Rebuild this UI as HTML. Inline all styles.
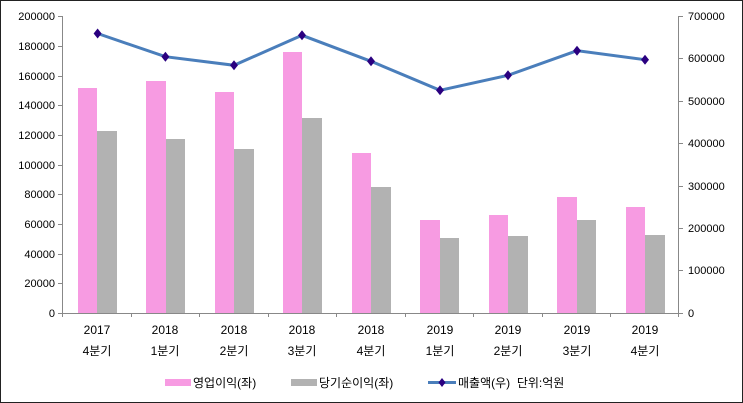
<!DOCTYPE html>
<html><head><meta charset="utf-8"><style>
html,body{margin:0;padding:0;background:#fff;}
svg{display:block;font-family:"Liberation Sans","Noto Sans CJK KR",sans-serif;}
</style></head><body>
<svg width="743" height="403" viewBox="0 0 743 403" xmlns="http://www.w3.org/2000/svg">
<rect x="0.5" y="0.5" width="742" height="402" fill="#fff" stroke="#222" stroke-width="1"/>
<g fill="#f79be2">
<rect x="78" y="88" width="19" height="225"/>
<rect x="146" y="81" width="20" height="232"/>
<rect x="215" y="92" width="19" height="221"/>
<rect x="283" y="52" width="19" height="261"/>
<rect x="352" y="153" width="19" height="160"/>
<rect x="420" y="220" width="20" height="93"/>
<rect x="489" y="215" width="19" height="98"/>
<rect x="557" y="197" width="20" height="116"/>
<rect x="626" y="207" width="19" height="106"/>
</g>
<g fill="#b2b2b2">
<rect x="97" y="131" width="20" height="182"/>
<rect x="166" y="139" width="19" height="174"/>
<rect x="234" y="149" width="20" height="164"/>
<rect x="302" y="118" width="20" height="195"/>
<rect x="371" y="187" width="20" height="126"/>
<rect x="440" y="238" width="19" height="75"/>
<rect x="508" y="236" width="20" height="77"/>
<rect x="577" y="220" width="19" height="93"/>
<rect x="645" y="235" width="20" height="78"/>
</g>
<g stroke="#888" stroke-width="1" fill="none">
<line x1="62.5" y1="16" x2="62.5" y2="313"/>
<line x1="678.5" y1="16" x2="678.5" y2="313"/>
<line x1="62" y1="313.5" x2="679" y2="313.5"/>
<path d="M58 16.5h4M58 46.5h4M58 76.5h4M58 105.5h4M58 135.5h4M58 165.5h4M58 194.5h4M58 224.5h4M58 254.5h4M58 283.5h4M58 313.5h4"/>
<path d="M679 16.5h4M679 58.5h4M679 101.5h4M679 143.5h4M679 186.5h4M679 228.5h4M679 270.5h4M679 313.5h4"/>
<path d="M62.5 313v4M131.5 313v4M199.5 313v4M268.5 313v4M336.5 313v4M405.5 313v4M473.5 313v4M542.5 313v4M610.5 313v4M678.5 313v4"/>
</g>
<g font-size="11" fill="#000" text-anchor="end">
<text x="55" y="20">200000</text><text x="55" y="50">180000</text><text x="55" y="80">160000</text>
<text x="55" y="109">140000</text><text x="55" y="139">120000</text><text x="55" y="169">100000</text>
<text x="55" y="198">80000</text><text x="55" y="228">60000</text><text x="55" y="258">40000</text>
<text x="55" y="287">20000</text><text x="55" y="317">0</text>
</g>
<g font-size="11" fill="#000">
<text x="688" y="20">700000</text><text x="688" y="62">600000</text><text x="688" y="105">500000</text>
<text x="688" y="147">400000</text><text x="688" y="190">300000</text><text x="688" y="232">200000</text>
<text x="688" y="274">100000</text><text x="688" y="317">0</text>
</g>
<g font-size="12" fill="#000" text-anchor="middle">
<text x="97" y="334">2017</text><text x="97" y="355">4분기</text>
<text x="165" y="334">2018</text><text x="165" y="355">1분기</text>
<text x="234" y="334">2018</text><text x="234" y="355">2분기</text>
<text x="302" y="334">2018</text><text x="302" y="355">3분기</text>
<text x="371" y="334">2018</text><text x="371" y="355">4분기</text>
<text x="440" y="334">2019</text><text x="440" y="355">1분기</text>
<text x="508" y="334">2019</text><text x="508" y="355">2분기</text>
<text x="577" y="334">2019</text><text x="577" y="355">3분기</text>
<text x="645" y="334">2019</text><text x="645" y="355">4분기</text>
</g>
<polyline points="97.6,33.5 165.4,56.7 234,65.3 302,35.3 371,61.3 440,90.3 508,75.3 577,50.7 645,59.7" fill="none" stroke="#4a7ebb" stroke-width="3"/>
<g fill="#2a0080">
<path d="M97.6 28.5l4 5-4 5-4-5z"/><path d="M165.4 51.7l4 5-4 5-4-5z"/><path d="M234 60.3l4 5-4 5-4-5z"/>
<path d="M302 30.3l4 5-4 5-4-5z"/><path d="M371 56.3l4 5-4 5-4-5z"/><path d="M440 85.3l4 5-4 5-4-5z"/>
<path d="M508 70.3l4 5-4 5-4-5z"/><path d="M577 45.7l4 5-4 5-4-5z"/><path d="M645 54.7l4 5-4 5-4-5z"/>
</g>
<rect x="165" y="379" width="26" height="7" fill="#f79be2"/>
<text x="193" y="387" font-size="12">영업이익(좌)</text>
<rect x="291" y="379" width="26" height="7" fill="#b2b2b2"/>
<text x="319" y="387" font-size="12">당기순이익(좌)</text>
<line x1="428" y1="382.5" x2="456" y2="382.5" stroke="#4a7ebb" stroke-width="3"/>
<path d="M442 378l3.5 4.5-3.5 4.5-3.5-4.5z" fill="#2a0080"/>
<text x="458" y="387" font-size="12">매출액(우)&#160; 단위:억원</text>
</svg>
</body></html>
